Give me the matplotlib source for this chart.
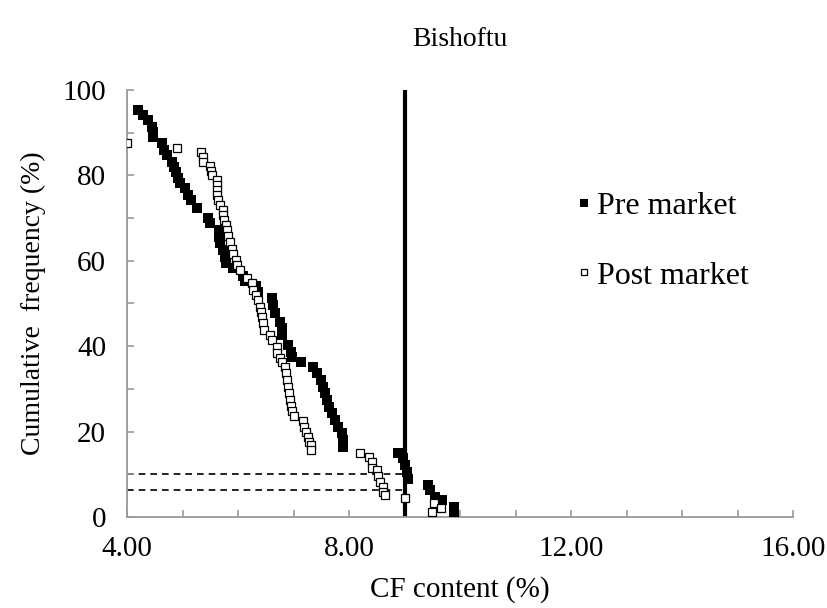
import numpy as np
import matplotlib.pyplot as plt
from matplotlib.ticker import MultipleLocator, FormatStrFormatter

# cumulative frequency curves
pre_x = [4.19, 4.29, 4.38, 4.45, 4.47, 4.47, 4.63, 4.67, 4.72, 4.81, 4.85, 4.88,
         4.92, 4.95, 5.05, 5.10, 5.15, 5.26, 5.46, 5.50, 5.66, 5.66, 5.68, 5.73,
         5.77, 5.78, 5.91, 6.09, 6.13, 6.32, 6.36, 6.61, 6.63, 6.67, 6.76, 6.79,
         6.79, 6.90, 6.95, 6.97, 7.14, 7.35, 7.42, 7.50, 7.53, 7.57, 7.60, 7.64,
         7.69, 7.75, 7.80, 7.87, 7.89, 7.89, 8.88, 8.97, 9.00, 9.05, 9.06, 9.42,
         9.46, 9.55, 9.68, 9.89, 9.89]
pre_y = [95.3, 94.1, 93.0, 91.3, 90.2, 89.0, 87.6, 86.0, 84.8, 83.1, 82.0, 80.8,
         79.4, 78.2, 77.0, 75.4, 74.2, 72.4, 70.0, 68.9, 67.2, 65.6, 64.2, 62.5,
         60.9, 59.5, 58.3, 56.5, 55.3, 54.0, 52.7, 51.3, 49.6, 47.8, 45.7, 44.3,
         42.6, 40.3, 38.6, 37.5, 36.3, 35.1, 33.7, 32.1, 30.4, 29.0, 27.4, 25.8,
         24.4, 22.7, 21.1, 19.7, 18.0, 16.4, 15.0, 13.8, 12.2, 10.5, 8.9, 7.5,
         6.3, 4.7, 4.0, 2.3, 1.2]

post_x = [4.00, 4.90, 5.33, 5.37, 5.37, 5.50, 5.51, 5.53, 5.62, 5.62, 5.62, 5.62,
          5.64, 5.68, 5.73, 5.73, 5.75, 5.78, 5.80, 5.82, 5.86, 5.89, 5.91, 5.96,
          5.98, 6.03, 6.16, 6.25, 6.27, 6.32, 6.36, 6.40, 6.41, 6.43, 6.45, 6.47,
          6.58, 6.61, 6.70, 6.70, 6.75, 6.79, 6.85, 6.86, 6.88, 6.90, 6.92, 6.94,
          6.96, 6.97, 7.01, 7.17, 7.19, 7.23, 7.26, 7.28, 7.31, 7.31, 8.20, 8.36,
          8.41, 8.41, 8.50, 8.52, 8.56, 8.61, 8.61, 8.65, 9.00, 9.53, 9.66, 9.50]
post_y = [87.6, 86.4, 85.5, 84.3, 83.1, 82.2, 81.0, 80.1, 78.9, 77.8, 76.6, 75.4,
          74.2, 73.1, 71.9, 70.7, 69.6, 68.4, 67.2, 65.8, 64.4, 62.8, 61.6, 60.2,
          59.1, 57.9, 56.0, 54.8, 53.2, 52.0, 50.8, 49.2, 48.0, 46.8, 45.4, 43.8,
          42.6, 41.5, 39.8, 38.4, 37.3, 36.3, 35.1, 33.7, 32.1, 30.4, 29.0, 27.4,
          26.0, 24.8, 23.7, 22.5, 21.1, 19.9, 18.7, 17.6, 16.9, 15.7, 15.0, 14.1,
          12.9, 11.5, 11.0, 9.6, 8.2, 7.0, 5.9, 5.2, 4.4, 3.3, 2.1, 1.2]

limit_x = 9.0          # vertical reference line
ref_levels = [10.0, 6.3]   # dashed guides

plt.rcParams['font.family'] = ['Liberation Serif', 'DejaVu Serif']

fig = plt.figure(figsize=(8.27, 6.08), dpi=100)
ax = fig.add_axes([0.1536, 0.1497, 0.8054, 0.7023])

ax.plot(pre_x, pre_y, 's', color='black', ms=6.5, mew=0, label='Pre market', zorder=3)
ax.plot(post_x, post_y, 's', mfc='white', mec='black', ms=5.5, mew=0.9,
        label='Post market', zorder=4)

ax.plot([limit_x, limit_x], [0, 100], color='black', lw=3, zorder=2)
for lv in ref_levels:
    ax.plot([4, limit_x], [lv, lv], color='black', lw=1.2, ls=(0, (4, 3)), zorder=1)

ax.set_xlim(4, 16)
ax.set_ylim(0, 100)
ax.xaxis.set_major_locator(MultipleLocator(4))
ax.xaxis.set_minor_locator(MultipleLocator(1))
ax.xaxis.set_major_formatter(FormatStrFormatter('%.2f'))
ax.yaxis.set_major_locator(MultipleLocator(20))
ax.yaxis.set_minor_locator(MultipleLocator(10))

for s in ['top', 'right']:
    ax.spines[s].set_visible(False)
for s in ['left', 'bottom']:
    ax.spines[s].set_color('#999999')
    ax.spines[s].set_linewidth(1.3)
ax.tick_params(which='both', direction='in', color='#999999', width=1.2, length=5,
               labelsize=21)
ax.tick_params(axis='x', pad=14)
ax.tick_params(axis='y', pad=15)

ax.set_xlabel('CF content (%)', fontsize=21, labelpad=10)
ax.set_ylabel('Cumulative  frequency (%)', fontsize=20, labelpad=12)
ax.set_title('Bishoftu', fontsize=20, pad=32)

ax.legend(loc='upper left', bbox_to_anchor=(0.632, 0.83), frameon=False, fontsize=23,
          handlelength=0.45, handletextpad=0.2, labelspacing=1.27, markerscale=0.9)

fig.savefig('out.png', dpi=100)
